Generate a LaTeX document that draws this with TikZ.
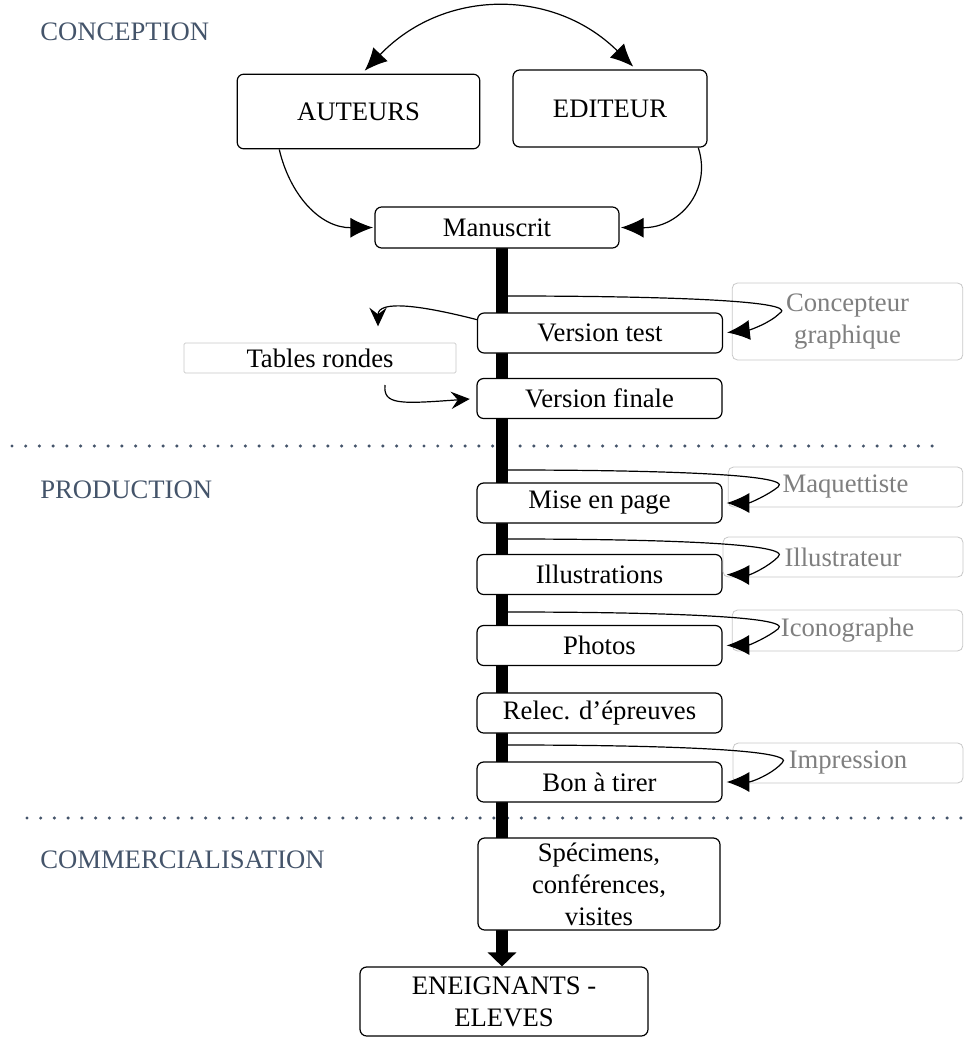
\documentclass[tikz,border=0pt]{standalone}
\usepackage{fontspec}
\setmainfont{Liberation Serif}
\usepackage{tikz}
\usetikzlibrary{arrows.meta,backgrounds}
\definecolor{phase}{HTML}{44546A}
\definecolor{helper}{HTML}{7F7F7F}
\definecolor{helperline}{HTML}{C8C8C8}

\begin{document}
\begin{tikzpicture}[x=0.75pt,y=-0.75pt]
 % Styles
\tikzset{
    stage/.style={draw, line width=0.9pt, rounded corners=5pt, fill=white, inner sep=0pt,
        minimum width=183.75pt, minimum height=30pt, align=center, font=\fontsize{20}{24}\selectfont},
    helper/.style={draw=helperline, line width=0.6pt, rounded corners=4pt, fill=white, text=helper,
        inner sep=0pt, minimum height=30pt, align=center, font=\fontsize{20}{24}\selectfont},
    phase/.style={anchor=west, inner sep=0pt, text=phase, font=\fontsize{20}{24}\selectfont},
    feed/.style={line width=0.9pt, -{Latex[length=17pt,width=15pt]}, shorten >=3pt},
    both/.style={feed, {Latex[length=17pt,width=15pt]}-{Latex[length=17pt,width=15pt]}, shorten <=3pt},
    roundfeed/.style={line width=0.9pt, -{Stealth[length=14pt,width=13pt,inset=5pt]}, shorten >=5pt},
    bar/.style={line width=9pt, -{Triangle[length=10.5pt,width=21pt]}},
    sep/.style={draw=phase, line width=2.6pt, line cap=round, dash pattern=on 0pt off 10.3pt}
}
\useasboundingbox (0,0) rectangle (964,1041);

% Phases
\node[phase] (conception) at (40,32) {CONCEPTION};
\node[phase] (production) at (40,490) {PRODUCTION};
\node[phase] (commercialisation) at (40,860) {COMMERCIALISATION};

% Stages
\node[stage, minimum width=182pt, minimum height=56pt] (auteurs) at (358.5,111.5) {AUTEURS};
\node[stage, minimum width=145.5pt, minimum height=57.75pt] (editeur) at (610,108.5) {EDITEUR};
\node[stage, minimum width=183pt, minimum height=30.75pt] (manuscrit) at (497,227.5) {Manuscrit};
\node[stage] (versiontest) at (600,333) {Version test};
\node[stage] (versionfinale) at (599.5,398.5) {Version finale};
\node[stage] (misepage) at (599.5,503) {Mise en page};
\node[stage] (illustrations) at (599.5,574.5) {Illustrations};
\node[stage] (photos) at (599.5,645.5) {Photos};
\node[stage] (relec) at (599.5,713) {Relec. d’épreuves};
\node[stage] (bonatirer) at (599.5,782) {Bon à tirer};
\node[stage, minimum width=181.5pt, minimum height=69pt] (specimens) at (599,884) {Spécimens,\\conférences,\\visites};
\node[stage, minimum width=216pt, minimum height=51.75pt] (eneignants) at (504,1001.5) {ENEIGNANTS -\\ELEVES};

% Helpers
\node[helper, minimum width=204pt, minimum height=22.5pt, text=black, rounded corners=1pt] (tablesrondes) at (320,358) {Tables rondes};
\node[helper, minimum width=173pt, minimum height=57.75pt] (concepteur) at (847.5,321.5) {Concepteur\\graphique};
\node[helper, minimum width=176pt] (maquettiste) at (845.5,487) {Maquettiste};
\node[helper, minimum width=180pt] (illustrateur) at (843,557) {Illustrateur};
\node[helper, minimum width=173pt, minimum height=30.75pt] (iconographe) at (847.5,630.5) {Iconographe};
\node[helper, minimum width=172.5pt] (impression) at (848,763) {Impression};

\coordinate (sepAl) at (12,446);
\coordinate (sepAr) at (945,446);
\coordinate (sepBl) at (27,818);
\coordinate (sepBr) at (962,818);
\coordinate (bartop) at (502,248);
\coordinate (feedA) at (508,296);
\coordinate (feedB) at (508,470);
\coordinate (feedC) at (508,539);
\coordinate (feedD) at (508,612);
\coordinate (feedE) at (508,745);
\coordinate (roundsin) at (378,333);
\coordinate (roundsout) at (385,385);

\begin{scope}[on background layer]
\draw[sep] (sepAl) -- (sepAr);
\draw[sep] (sepBl) -- (sepBr);
\draw[bar] (bartop) -- (bartop |- eneignants.north);
\end{scope}

\draw[both] ([xshift=2.6pt]auteurs.north) .. controls (444,-12) and (554,-12) .. ([xshift=19.5pt]editeur.north);
\draw[feed, shorten >=1pt] ([xshift=32pt]auteurs.south west) .. controls (290,195) and (320,228) .. (manuscrit.west);
\draw[feed, shorten >=1pt] ([xshift=-7pt]editeur.south east) .. controls (712,190) and (680,228) .. (manuscrit.east);

\draw[roundfeed] ([yshift=10pt]versiontest.west) .. controls (420,305) and (378,300) .. (roundsin);
\draw[roundfeed] (roundsout) .. controls (383,405) and (400,404) .. (versionfinale.west);

\draw[feed] (feedA) .. controls (650,296) and (800,300) .. (780,313) .. controls (770,323) and (750,330) .. (versiontest.east);
\draw[feed] (feedB) .. controls (650,470) and (795,474) .. (778,487) .. controls (768,495) and (750,503) .. (misepage.east);
\draw[feed] (feedC) .. controls (650,539) and (795,543) .. (778,557) .. controls (768,567) and (750,575) .. (illustrations.east);
\draw[feed] (feedD) .. controls (650,612) and (795,616) .. (778,629) .. controls (768,637) and (750,645) .. (photos.east);
\draw[feed] (feedE) .. controls (650,745) and (800,749) .. (782,763) .. controls (772,774) and (752,782) .. (bonatirer.east);
\end{tikzpicture}
\end{document}
